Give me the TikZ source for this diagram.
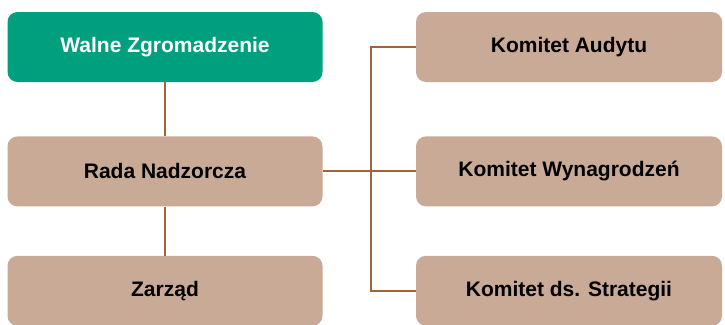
\documentclass[tikz,border=0pt]{standalone}
\usepackage{fontspec}
\setmainfont{Liberation Sans}
\usetikzlibrary{positioning}
\definecolor{zgreen}{HTML}{00A07F}
\definecolor{zbrown}{HTML}{C9AA97}
\definecolor{zline}{HTML}{A0633C}

\begin{document}
\begin{tikzpicture}[x=1pt, y=-1pt,
every node/.style={font=\fontsize{21}{25}\selectfont\bfseries, align=center},
body/.style={rectangle, rounded corners=10pt, fill=zbrown, text=black, minimum width=315pt, minimum height=70pt, inner sep=0pt},
topbody/.style={body, fill=zgreen, text=white},
committee/.style={body, minimum width=306pt},
link/.style={draw=zline, line width=2pt}
]
\useasboundingbox (0,0) rectangle (725,324);
% Left column
\node[topbody] (walne) at (165,47) {Walne Zgromadzenie};
\node[body, below=54pt of walne] (rada) {Rada Nadzorcza};
\node[body, below=49pt of rada] (zarzad) {Zarząd};
% Right column
\node[committee] (audyt) at (569,47) {Komitet Audytu};
\node[committee, below=54pt of audyt] (wynagr) {Komitet Wynagrodzeń};
\node[committee, below=49pt of wynagr] (strat) {Komitet ds. Strategii};
% Connectors
\coordinate (bus) at (371,47);
\draw[link] (walne.south) -- (rada.north);
\draw[link] (rada.south) -- (zarzad.north);
\draw[link] (rada.east) -- (wynagr.west);
\draw[link] (audyt.west) -- (bus) |- (strat.west);
\end{tikzpicture}
\end{document}
